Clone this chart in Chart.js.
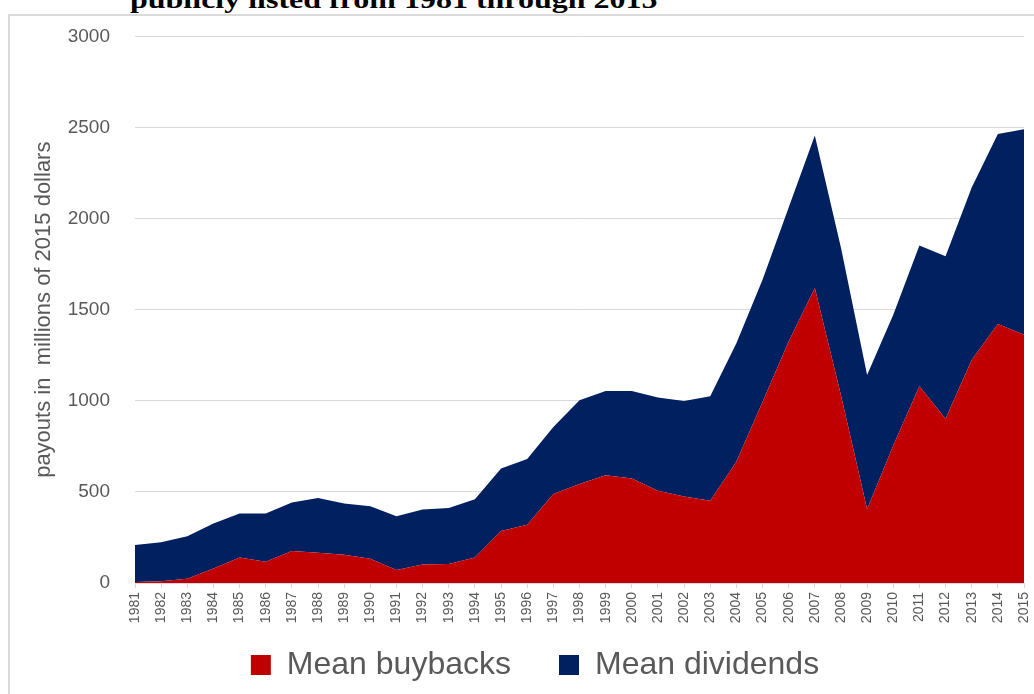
<!DOCTYPE html>
<html>
<head>
<meta charset="utf-8">
<script src="https://cdn.jsdelivr.net/npm/chart.js@4.4.1/dist/chart.umd.min.js"></script>
<style>
  body { margin: 0; background: #fff; }
  #wrap { position: relative; width: 1034px; height: 694px; overflow: hidden; }
  #frame {
    position: absolute; left: 8px; top: 14px; width: 1100px; height: 700px;
    border-top: 2px solid #d9d9d9; border-left: 2px solid #d9d9d9;
  }
  #title {
    position: absolute; left: 130px; top: -13px; white-space: nowrap;
    font: bold 26px/26px "Liberation Serif", serif; color: #000;
    transform: scaleX(1.23); transform-origin: left top;
  }
  #chart { position: absolute; left: 0; top: 0; }
</style>
</head>
<body>
<div id="wrap">
  <div id="frame"></div>
  <div id="title">publicly listed from 1981 through 2015</div>
  <canvas id="chart" width="1034" height="694"></canvas>
</div>
<script>
// Data (millions of 2015 dollars)
const years = ['1981','1982','1983','1984','1985','1986','1987','1988','1989','1990',
  '1991','1992','1993','1994','1995','1996','1997','1998','1999','2000',
  '2001','2002','2003','2004','2005','2006','2007','2008','2009','2010',
  '2011','2012','2013','2014','2015'];

const buybacks = [5, 10, 24, 80, 140, 117, 175, 166, 155, 133,
  71, 102, 104, 140, 286, 320, 488, 543, 592, 574,
  506, 475, 451, 666, 994, 1325, 1619, 1030, 405, 754,
  1080, 902, 1224, 1422, 1362];

const dividends = [203, 213, 233, 247, 241, 264, 267, 301, 281, 288,
  296, 301, 308, 320, 342, 360, 368, 460, 462, 480,
  512, 524, 574, 650, 671, 736, 837, 810, 736, 718,
  773, 892, 947, 1043, 1128];

const yTicks = [0, 500, 1000, 1500, 2000, 2500, 3000];

const RED = '#c00000';
const NAVY = '#002060';
const GREY_TEXT = '#595959';
const GRID = '#d9d9d9';

// let the rotated year labels draw below the (short) x-axis box
const xLabelRoom = {
  id: 'xLabelRoom',
  afterLayout(chart) {
    const x = chart.scales.x;
    x.bottom = x.top + 50;
  }
};

// ── Chart ────────────────────────────────────────────────────
const ctx = document.getElementById('chart').getContext('2d');
new Chart(ctx, {
  type: 'line',
  data: {
    labels: years,
    datasets: [
      {
        label: 'Mean buybacks',
        data: buybacks,
        backgroundColor: RED,
        borderColor: RED,
        borderWidth: 0,
        pointRadius: 0,
        tension: 0,
        fill: 'origin',
      },
      {
        label: 'Mean dividends',
        data: dividends,
        backgroundColor: NAVY,
        borderColor: NAVY,
        borderWidth: 0,
        pointRadius: 0,
        tension: 0,
        fill: '-1',
      }
    ]
  },
  plugins: [xLabelRoom],
  options: {
    responsive: false,
    animation: false,
    layout: { padding: { left: 46, right: 10, top: 35, bottom: 3 } },
    scales: {
      x: {
        offset: false,
        grid: { drawOnChartArea: false, drawTicks: true, tickLength: 5, color: GRID },
        border: { display: true, color: GRID, width: 1 },
        ticks: {
          color: GREY_TEXT,
          font: { family: 'Liberation Sans', size: 14 },
          minRotation: 90, maxRotation: 90,
          autoSkip: false,
          padding: 4,
        },
        afterFit: scale => {
          scale.height = 18;
          scale.paddingLeft = 0;
          scale.paddingRight = 0;
        }
      },
      y: {
        stacked: true,
        min: 0,
        max: 3000,
        afterBuildTicks: scale => { scale.ticks = yTicks.map(v => ({ value: v })); },
        grid: { color: GRID, drawTicks: false },
        border: { display: false },
        ticks: {
          color: GREY_TEXT,
          font: { family: 'Liberation Sans', size: 19 },
          padding: 25,
          callback: v => String(v),
        },
        title: {
          display: true,
          text: 'payouts in  millions of 2015 dollars',
          color: GREY_TEXT,
          font: { family: 'Liberation Sans', size: 22 },
          padding: { top: -15, bottom: 0 },
        },
        afterFit: scale => { scale.width = 89; }
      }
    },
    plugins: {
      legend: {
        position: 'bottom',
        labels: {
          color: GREY_TEXT,
          font: { family: 'Liberation Sans', size: 32 },
          boxWidth: 20,
          boxHeight: 20,
          padding: 48,
        }
      },
      tooltip: { enabled: false }
    }
  }
});
</script>
</body>
</html>
